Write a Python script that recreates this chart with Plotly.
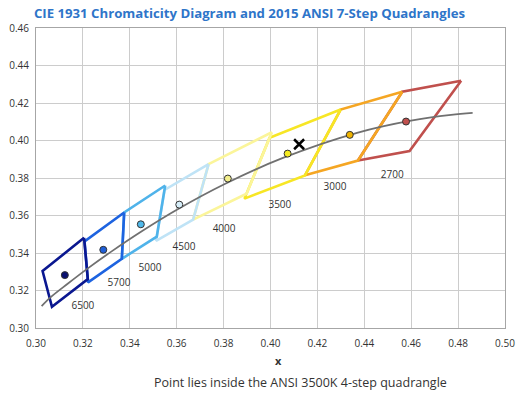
import plotly.graph_objects as go

# ANSI C78.377 nominal CCTs, quadrangle corners and centres
cct = ['2700', '3000', '3500', '4000', '4500', '5000', '5700', '6500']
quad_x = [
    [0.4813, 0.4562, 0.4373, 0.4593],
    [0.4562, 0.4299, 0.4147, 0.4373],
    [0.4299, 0.3996, 0.3889, 0.4147],
    [0.4006, 0.3736, 0.3670, 0.3898],
    [0.3736, 0.3548, 0.3512, 0.3670],
    [0.3551, 0.3376, 0.3366, 0.3515],
    [0.3376, 0.3207, 0.3222, 0.3366],
    [0.3205, 0.3028, 0.3068, 0.3221],
]
quad_y = [
    [0.4319, 0.4260, 0.3893, 0.3944],
    [0.4260, 0.4165, 0.3814, 0.3893],
    [0.4165, 0.4015, 0.3690, 0.3814],
    [0.4044, 0.3874, 0.3578, 0.3716],
    [0.3874, 0.3736, 0.3465, 0.3578],
    [0.3760, 0.3616, 0.3369, 0.3487],
    [0.3616, 0.3462, 0.3243, 0.3369],
    [0.3481, 0.3304, 0.3113, 0.3261],
]
center_x = [0.4578, 0.4338, 0.4073, 0.3818, 0.3611, 0.3447, 0.3287, 0.3123]
center_y = [0.4101, 0.4030, 0.3930, 0.3797, 0.3658, 0.3553, 0.3417, 0.3282]
label_x = [0.4519, 0.4275, 0.4040, 0.3802, 0.3631, 0.3486, 0.3354, 0.3200]
label_y = [0.3816, 0.3748, 0.3656, 0.3528, 0.3432, 0.3320, 0.3235, 0.3114]

# Planckian locus, ~2400 K to ~7300 K
locus_x = [0.4862, 0.4770, 0.4599, 0.4369, 0.4053, 0.3805, 0.3608, 0.3451, 0.3324, 0.3221, 0.3135, 0.3064, 0.3024]
locus_y = [0.4147, 0.4137, 0.4106, 0.4041, 0.3907, 0.3768, 0.3636, 0.3516, 0.3410, 0.3318, 0.3236, 0.3166, 0.3117]

# measured point
test_x = [0.4122]
test_y = [0.3980]

line_colors = ['#c0504d', '#f5a623', '#f7e625', '#fbf59a', '#bfe3f6', '#4fb3ea', '#1d63e0', '#0a1790']
dot_colors = ['#c0504d', '#f0b400', '#f5eb20', '#f3ef8c', '#d7eef9', '#4fb8ea', '#1f5fd8', '#0a1070']

fig = go.Figure()

for i in range(len(cct)):
    fig.add_trace(go.Scatter(
        x=quad_x[i] + [quad_x[i][0]],
        y=quad_y[i] + [quad_y[i][0]],
        mode='lines',
        line=dict(color=line_colors[i], width=2.6),
        hoverinfo='skip',
    ))

fig.add_trace(go.Scatter(
    x=locus_x, y=locus_y, mode='lines',
    line=dict(color='#707070', width=1.8, shape='spline'),
))

fig.add_trace(go.Scatter(
    x=center_x, y=center_y, mode='markers',
    marker=dict(size=7, color=dot_colors, line=dict(color='#333333', width=1)),
))

fig.add_trace(go.Scatter(
    x=label_x, y=label_y, mode='text', text=cct,
    textfont=dict(family='Open Sans', size=10, color='#333333'),
))

fig.add_trace(go.Scatter(
    x=test_x, y=test_y, mode='markers',
    marker=dict(symbol='x-thin', size=10, line=dict(color='black', width=2.5)),
))

grid = dict(showgrid=True, gridcolor='#cccccc', gridwidth=1, automargin=False,
            showline=True, linecolor='#a6a6a6', mirror=True, zeroline=False,
            ticks='', tickfont=dict(family='Open Sans', size=10, color='#333333'))

fig.update_layout(
    width=517, height=394,
    margin=dict(l=36, r=12, t=28, b=66),
    plot_bgcolor='white', paper_bgcolor='white',
    showlegend=False,
    title=dict(
        text='<b>CIE 1931 Chromaticity Diagram and 2015 ANSI 7-Step Quadrangles</b>',
        x=249.5 / 517, xanchor='center', y=1 - 13 / 394, yanchor='middle',
        font=dict(family='Open Sans', size=13.2, color='#2e75c9'),
    ),
    xaxis=dict(range=[0.30, 0.50], dtick=0.02, tickformat='.2f', ticklabelstandoff=6, **grid),
    yaxis=dict(range=[0.30, 0.46], dtick=0.02, tickformat='.2f', ticklabelstandoff=4, **grid),
    annotations=[
        dict(text='<b>x</b>', xref='paper', yref='paper', x=(278 - 36) / 469, y=0,
             yshift=-32, showarrow=False, yanchor='middle',
             font=dict(family='Open Sans', size=11, color='#333333')),
        dict(text='Point lies inside the ANSI 3500K 4-step quadrangle', xref='paper', yref='paper',
             x=(300 - 36) / 469, y=0, yshift=-54, showarrow=False, yanchor='middle',
             font=dict(family='Open Sans', size=12.5, color='#333333')),
    ],
)

# page body has a default 8px margin; drop it so the figure sits at (0, 0)
fig.write_html("out.html", config={'displayModeBar': False},
               post_script="document.body.style.margin='0';")
